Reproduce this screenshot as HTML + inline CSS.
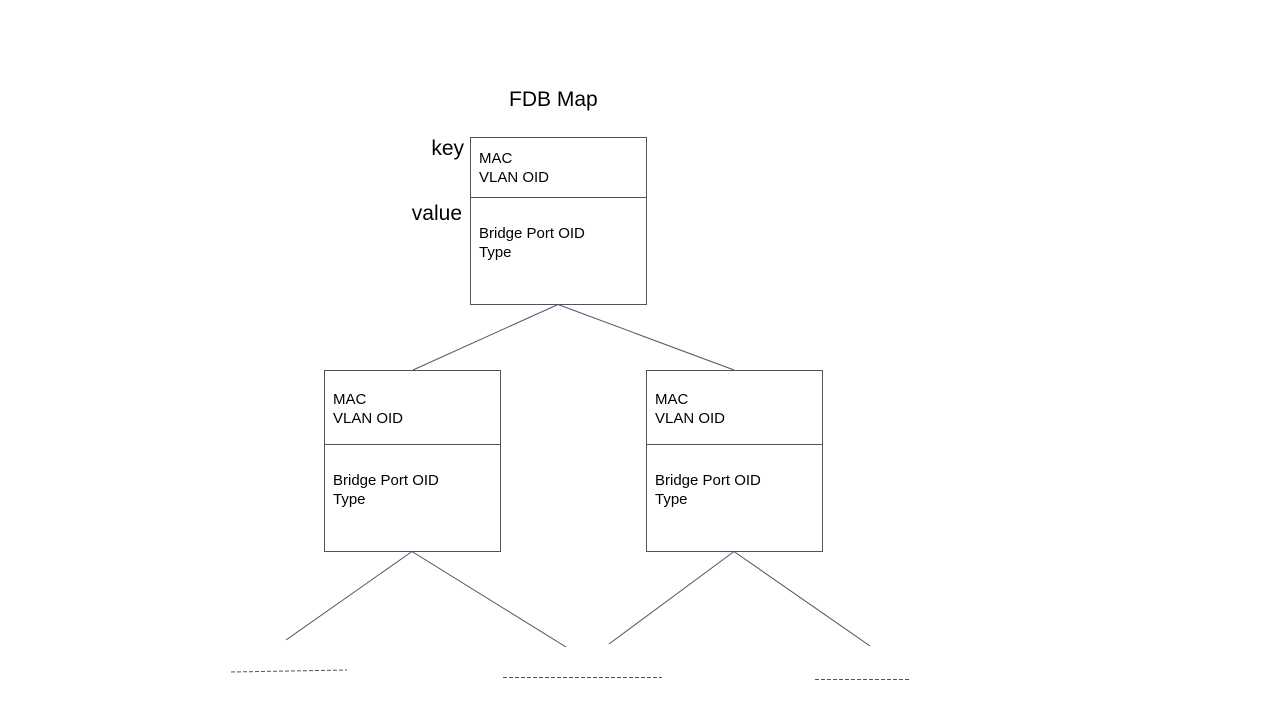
<!DOCTYPE html>
<html><head><meta charset="utf-8"><style>body{margin:0;background:#fff}svg{display:block}</style></head>
<body>
<svg width="1280" height="720" xmlns="http://www.w3.org/2000/svg" font-family="Liberation Sans, sans-serif">
<rect width="1280" height="720" fill="#fff"/>
<g fill="none" stroke="#4a5564" stroke-width="1">
<rect x="470.5" y="137.5" width="176" height="167"/>
<line x1="470" y1="197.5" x2="647" y2="197.5"/>
<rect x="324.5" y="370.5" width="176" height="181"/>
<line x1="324" y1="444.5" x2="501" y2="444.5"/>
<rect x="646.5" y="370.5" width="176" height="181"/>
<line x1="646" y1="444.5" x2="823" y2="444.5"/>
<line x1="558" y1="304.5" x2="413" y2="370"/>
<line x1="558" y1="304.5" x2="734" y2="370"/>
<line x1="412" y1="551.5" x2="286" y2="640"/>
<line x1="412" y1="551.5" x2="566" y2="647"/>
<line x1="734" y1="551.5" x2="609" y2="644"/>
<line x1="734" y1="551.5" x2="870" y2="646"/>
<g stroke-dasharray="4,2">
<line x1="231" y1="672" x2="347" y2="670"/>
<line x1="503" y1="677.5" x2="662" y2="677.5"/>
<line x1="815" y1="679.5" x2="911" y2="679.5"/>
</g>
</g>
<g fill="#000">
<text x="509" y="106" font-size="21">FDB Map</text>
<text x="464" y="155" font-size="21" text-anchor="end">key</text>
<text x="462" y="220" font-size="21" text-anchor="end">value</text>
<g font-size="15">
<text x="479" y="163">MAC</text><text x="479" y="182">VLAN OID</text>
<text x="479" y="238">Bridge Port OID</text><text x="479" y="257">Type</text>
<text x="333" y="404">MAC</text><text x="333" y="423">VLAN OID</text>
<text x="333" y="485">Bridge Port OID</text><text x="333" y="504">Type</text>
<text x="655" y="404">MAC</text><text x="655" y="423">VLAN OID</text>
<text x="655" y="485">Bridge Port OID</text><text x="655" y="504">Type</text>
</g>
</g>
</svg>
</body></html>
